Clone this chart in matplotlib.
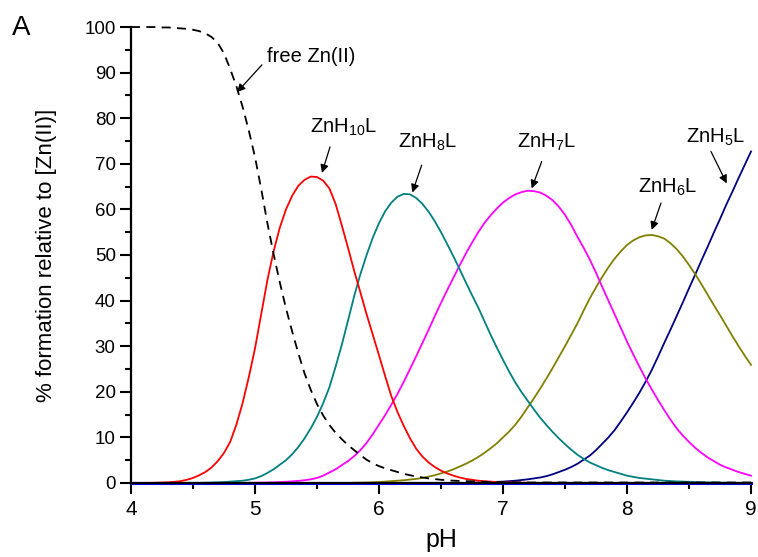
import numpy as np
import matplotlib
matplotlib.use("Agg")
import matplotlib.pyplot as plt

plt.rcParams['font.family'] = ['Liberation Sans', 'DejaVu Sans']
plt.rcParams['mathtext.fontset'] = 'custom'
plt.rcParams['mathtext.rm'] = 'Liberation Sans'
plt.rcParams['mathtext.it'] = 'Liberation Sans'

# pH points where the curves were read (step 0.05)
ph = [4.00, 4.05, 4.10, 4.15, 4.20, 4.25, 4.30, 4.35, 4.40, 4.45,
      4.50, 4.55, 4.60, 4.65, 4.70, 4.75, 4.80, 4.85, 4.90, 4.95,
      5.00, 5.05, 5.10, 5.15, 5.20, 5.25, 5.30, 5.35, 5.40, 5.45,
      5.50, 5.55, 5.60, 5.65, 5.70, 5.75, 5.80, 5.85, 5.90, 5.95,
      6.00, 6.05, 6.10, 6.15, 6.20, 6.25, 6.30, 6.35, 6.40, 6.45,
      6.50, 6.55, 6.60, 6.65, 6.70, 6.75, 6.80, 6.85, 6.90, 6.95,
      7.00, 7.05, 7.10, 7.15, 7.20, 7.25, 7.30, 7.35, 7.40, 7.45,
      7.50, 7.55, 7.60, 7.65, 7.70, 7.75, 7.80, 7.85, 7.90, 7.95,
      8.00, 8.05, 8.10, 8.15, 8.20, 8.25, 8.30, 8.35, 8.40, 8.45,
      8.50, 8.55, 8.60, 8.65, 8.70, 8.75, 8.80, 8.85, 8.90, 8.95,
      9.00]

free_zn = [100.0, 100.0, 100.0, 100.0, 100.0, 99.9, 99.9, 99.8, 99.7, 99.6,
           99.4, 99.1, 98.6, 97.8, 96.5, 94.2, 90.8, 87.0, 82.5, 77.3,
           71.5, 64.5, 57.0, 50.2, 44.0, 38.3, 33.2, 28.4, 24.0, 20.4,
           17.3, 14.8, 12.7, 11.0, 9.6, 8.3, 7.2, 6.1, 5.1, 4.3,
           3.7, 3.2, 2.8, 2.4, 2.0, 1.7, 1.4, 1.2, 1.0, 0.85,
           0.7, 0.6, 0.5, 0.45, 0.4, 0.35, 0.3, 0.25, 0.2, 0.2,
           0.2, 0.15, 0.15, 0.1] + [0.1] * 37

znh10l = [0.0, 0.0, 0.0, 0.02, 0.05, 0.1, 0.15, 0.25, 0.4, 0.7,
          1.1, 1.7, 2.4, 3.4, 4.8, 6.6, 9.0, 12.8, 17.5, 23.2,
          29.5, 37.0, 44.5, 50.8, 56.0, 60.0, 63.0, 65.2, 66.5, 67.2,
          67.1, 66.3, 64.6, 61.2, 56.5, 51.6, 46.5, 41.8, 37.0, 32.5,
          28.0, 23.4, 19.0, 15.5, 12.5, 9.8, 7.5, 5.8, 4.5, 3.5,
          2.7, 2.1, 1.6, 1.2, 0.9, 0.7, 0.5, 0.4, 0.3, 0.2,
          0.15, 0.12, 0.1, 0.07, 0.05] + [0.0] * 36

znh8l = [0.0, 0.0, 0.0, 0.0, 0.0, 0.0, 0.0, 0.0, 0.0, 0.01,
         0.02, 0.03, 0.05, 0.1, 0.15, 0.2, 0.3, 0.4, 0.5, 0.7,
         1.0, 1.5, 2.2, 3.0, 4.0, 5.0, 6.3, 7.9, 9.8, 12.0,
         14.5, 17.5, 21.0, 25.5, 30.3, 35.6, 41.0, 45.8, 50.0, 53.8,
         57.0, 59.6, 61.5, 62.8, 63.4, 63.3, 62.5, 61.2, 59.5, 57.4,
         55.0, 52.4, 49.7, 46.9, 44.0, 41.2, 38.5, 35.5, 32.5, 29.7,
         27.0, 24.4, 22.0, 19.9, 18.0, 16.1, 14.3, 12.7, 11.2, 9.8,
         8.5, 7.3, 6.2, 5.3, 4.5, 3.9, 3.3, 2.8, 2.4, 2.0,
         1.6, 1.35, 1.1, 0.95, 0.8, 0.65, 0.5, 0.42, 0.35, 0.3,
         0.25, 0.2, 0.15, 0.12, 0.1, 0.07, 0.05, 0.04, 0.03, 0.02,
         0.02]

znh7l = [0.0] * 18 + [
         0.02, 0.03,
         0.05, 0.07, 0.1, 0.15, 0.2, 0.27, 0.35, 0.45, 0.6, 0.8,
         1.1, 1.6, 2.3, 3.0, 3.9, 4.8, 5.9, 7.2, 8.8, 10.7,
         12.8, 14.9, 17.2, 19.6, 22.2, 25.0, 27.8, 30.7, 33.6, 36.6,
         39.5, 42.3, 45.0, 47.7, 50.3, 52.7, 55.0, 57.0, 58.7, 60.2,
         61.5, 62.5, 63.3, 63.8, 64.1, 64.0, 63.7, 63.0, 62.0, 60.6,
         58.8, 56.6, 54.0, 51.6, 49.0, 46.1, 43.0, 40.0, 37.0, 34.0,
         31.0, 28.2, 25.5, 22.9, 20.5, 18.2, 16.0, 13.9, 12.0, 10.4,
         9.0, 7.7, 6.6, 5.6, 4.8, 4.0, 3.4, 2.9, 2.4, 2.0,
         1.6]

znh6l = [0.0] * 36 + [
         0.05, 0.07, 0.1, 0.15,
         0.2, 0.3, 0.4, 0.5, 0.6, 0.75, 0.9, 1.1, 1.4, 1.7,
         2.1, 2.5, 3.0, 3.6, 4.2, 4.9, 5.7, 6.6, 7.6, 8.7,
         10.0, 11.3, 12.8, 14.6, 16.6, 18.6, 20.7, 22.9, 25.2, 27.6,
         30.0, 32.5, 35.0, 37.8, 40.5, 42.9, 45.2, 47.3, 49.2, 50.8,
         52.2, 53.2, 53.9, 54.3, 54.4, 54.1, 53.6, 52.6, 51.3, 49.7,
         47.8, 45.8, 43.6, 41.3, 39.0, 36.8, 34.5, 32.2, 30.0, 27.9,
         25.9]

znh5l = [0.0] * 55 + [
         0.05, 0.1, 0.15, 0.2, 0.25,
         0.3, 0.4, 0.5, 0.65, 0.8, 1.0, 1.2, 1.5, 1.9, 2.4,
         2.9, 3.5, 4.2, 5.1, 6.0, 7.2, 8.6, 10.0, 11.6, 13.5,
         15.5, 17.6, 19.8, 22.2, 24.8, 27.7, 30.7, 33.6, 36.6, 39.6,
         42.7, 45.7, 48.8, 51.8, 54.9, 57.9, 61.0, 63.9, 66.9, 69.8,
         72.7]

# species that stays at ~0 over the whole range (blue line on the axis)
other = [0.0] * len(ph)

# label text, text position, arrow start, arrow tip (data coords)
labels = ['free Zn(II)', 'ZnH$_{10}$L', 'ZnH$_{8}$L', 'ZnH$_{7}$L', 'ZnH$_{6}$L', 'ZnH$_{5}$L']
label_xy = [(5.10, 93.6), (5.71, 78.0), (6.39, 74.6), (7.35, 74.6), (8.33, 64.8), (8.71, 75.8)]
arrow_from = [(5.056, 91.7), (5.605, 73.7), (6.344, 69.7), (7.312, 70.5), (8.274, 61.4), (8.677, 72.7)]
arrow_to = [(4.855, 85.7), (5.540, 68.0), (6.269, 63.7), (7.231, 64.6), (8.199, 55.5), (8.804, 65.7)]

fig = plt.figure(figsize=(7.58, 5.57), dpi=100)
ax = fig.add_axes([0.1728, 0.1329, 0.818, 0.8186])

lw = 1.3
ax.plot(ph, other, color='#0000FF', lw=2.2, clip_on=False)
ax.plot(ph, znh5l, color='#000080', lw=lw, clip_on=False)
ax.plot(ph, znh6l, color='#808000', lw=lw, clip_on=False)
ax.plot(ph, znh7l, color='#FF00FF', lw=lw, clip_on=False)
ax.plot(ph, znh8l, color='#008080', lw=lw, clip_on=False)
ax.plot(ph, znh10l, color='#FF0000', lw=lw, clip_on=False)
ax.plot(ph, free_zn, color='black', lw=lw, ls=(0, (5, 3.5)), clip_on=False)

for i in range(len(labels)):
    ha = 'left' if i == 0 else 'center'
    ax.text(label_xy[i][0], label_xy[i][1], labels[i], fontsize=14.5,
            ha=ha, va='center')
    ax.annotate('', xy=arrow_to[i], xytext=arrow_from[i],
                arrowprops=dict(arrowstyle='-|>', color='black', lw=0.9,
                                mutation_scale=12, shrinkA=0, shrinkB=0))

ax.set_xlim(4, 9)
ax.set_ylim(0, 100)
ax.set_xticks([4, 5, 6, 7, 8, 9])
ax.set_xticks([4.5, 5.5, 6.5, 7.5, 8.5], minor=True)
ax.set_yticks(np.arange(0, 101, 10))
ax.set_yticks(np.arange(5, 100, 10), minor=True)

for s in ['top', 'right']:
    ax.spines[s].set_visible(False)
for s in ['left', 'bottom']:
    ax.spines[s].set_linewidth(1.6)

ax.tick_params(which='major', direction='out', length=8, width=1.5, pad=3)
ax.tick_params(which='minor', direction='out', length=4.5, width=1.5)
ax.tick_params(axis='x', which='major', labelsize=15, pad=4)
ax.tick_params(axis='y', which='major', labelsize=13.5)

ax.set_xlabel('pH', fontsize=18)
ax.set_ylabel('% formation relative to [Zn(II)]', fontsize=16)
ax.xaxis.set_label_coords(0.5, -0.098)
ax.yaxis.set_label_coords(-0.12, 0.5)

fig.text(12 / 758, 1 - 28 / 557, 'A', fontsize=20, va='center', ha='left')

fig.savefig('out.png', dpi=100)
